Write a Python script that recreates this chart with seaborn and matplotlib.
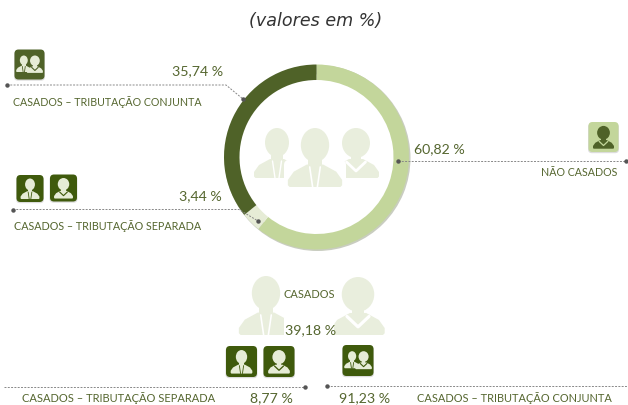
import matplotlib
matplotlib.use('Agg')
import matplotlib.pyplot as plt
from matplotlib.patches import Ellipse, FancyBboxPatch, Polygon, Rectangle
import seaborn as sns

# Data
categories = ['Não Casados', 'Casados – Tributação Separada', 'Casados – Tributação Conjunta']
values = [60.82, 3.44, 35.74]
value_labels = ['60,82 %', '3,44 %', '35,74 %']
married_label = 'Casados'
married_value = '39,18 %'
married_split_labels = ['8,77 %', '91,23 %']

# Colors
LIGHT = '#c3d69b'
PALE = '#e6ecd6'
DARK = '#4f6228'
ICON_DARK = '#3f5a0c'
GHOST = '#e9eedd'
TEXT = '#55662f'
DOT = '#555555'

sns.set_theme(style='white')
plt.rcParams['font.family'] = ['Lato', 'DejaVu Sans']

fig = plt.figure(figsize=(6.28, 4.05), dpi=100)

# Overlay axes in image pixels
ax = fig.add_axes([0, 0, 1, 1])
ax.set_xlim(0, 628)
ax.set_ylim(405, 0)
ax.axis('off')


def person(cx, top, s, color, cut, female=False, z=3):
    # head and shoulders, s = total height in pixels
    w = s * 0.92
    if female:
        ax.add_patch(Ellipse((cx, top + s * 0.3), s * 0.56, s * 0.6, color=color, lw=0, zorder=z))
        ax.add_patch(Rectangle((cx - s * 0.1, top + s * 0.5), s * 0.2, s * 0.22, color=color, lw=0, zorder=z))
    else:
        ax.add_patch(Ellipse((cx, top + s * 0.29), s * 0.48, s * 0.58, color=color, lw=0, zorder=z))
        ax.add_patch(Rectangle((cx - s * 0.12, top + s * 0.45), s * 0.24, s * 0.2, color=color, lw=0, zorder=z))
    ax.add_patch(Polygon([(cx - w / 2, top + s * 0.97), (cx - w / 2, top + s * 0.88),
                          (cx - w / 2 + s * 0.1, top + s * 0.74), (cx - s * 0.14, top + s * 0.62),
                          (cx + s * 0.14, top + s * 0.62), (cx + w / 2 - s * 0.1, top + s * 0.74),
                          (cx + w / 2, top + s * 0.88), (cx + w / 2, top + s * 0.97),
                          (cx + w / 2 - s * 0.03, top + s), (cx - w / 2 + s * 0.03, top + s)],
                         color=color, lw=0, zorder=z))
    # collar
    if female:
        ax.plot([cx - s * 0.19, cx, cx + s * 0.19], [top + s * 0.68, top + s * 0.86, top + s * 0.68],
                color=cut, lw=max(s * 0.04, 0.8), zorder=z + 0.1, solid_capstyle='round')
    else:
        ax.plot([cx - s * 0.09, cx - s * 0.04], [top + s * 0.66, top + s], color=cut, lw=max(s * 0.02, 0.6), zorder=z + 0.1)
        ax.plot([cx + s * 0.09, cx + s * 0.04], [top + s * 0.66, top + s], color=cut, lw=max(s * 0.02, 0.6), zorder=z + 0.1)


def icon(x0, y0, size, bg, fg, kinds):
    ax.add_patch(FancyBboxPatch((x0 - 0.5, y0 + 1.2), size + 1, size, boxstyle='round,pad=0,rounding_size=4',
                                fc='#dcdcdc', ec='none', zorder=2))
    ax.add_patch(FancyBboxPatch((x0, y0), size, size, boxstyle='round,pad=0,rounding_size=4',
                                fc=bg, ec='none', zorder=2.5))
    if len(kinds) == 1:
        person(x0 + size / 2, y0 + size * 0.13, size * 0.76, fg, bg, kinds[0] == 'f')
    else:
        person(x0 + size * 0.31, y0 + size * 0.2, size * 0.55, fg, bg, False)
        person(x0 + size * 0.68, y0 + size * 0.2, size * 0.58, fg, bg, True)


def leader(xs, ys, dot_ends, color='#888888'):
    ax.plot(xs, ys, color=color, lw=0.7, ls=(0, (2, 1.4)), zorder=5)
    for x, y in dot_ends:
        ax.plot(x, y, 'o', ms=3.2, color=DOT, mew=0, zorder=6)


def label(x, y, s, width, ha='left'):
    # fit the string to the pixel width it has in the reference
    t = ax.text(x, y, s, fontsize=10, color=TEXT, ha=ha, va='center', zorder=6)
    w = t.get_window_extent(fig.canvas.get_renderer()).width
    t.set_fontsize(10 * width / w)


def value(x, y, s, ha='right'):
    ax.text(x, y, s, fontsize=10.2, color=TEXT, ha=ha, va='center', zorder=6)


# Donut
cx, cy, R, r = 316.5, 157, 92.5, 77
shadow = fig.add_axes([(cx - R + 0.5) / 628, 1 - (cy + R + 1.5) / 405, (2 * R + 1) / 628, (2 * R + 1) / 405], zorder=-1)
shadow.pie([1], colors=['#c9cdc0'], radius=1, wedgeprops=dict(width=0.1, lw=0))
shadow.set_xlim(-1, 1)
shadow.set_ylim(-1, 1)

donut = fig.add_axes([(cx - R) / 628, 1 - (cy + R) / 405, 2 * R / 628, 2 * R / 405], zorder=-0.5)
donut.pie(values, colors=[LIGHT, PALE, DARK], startangle=90, counterclock=False, radius=1,
          wedgeprops=dict(width=(R - r) / R, lw=0))
donut.set_xlim(-1, 1)
donut.set_ylim(-1, 1)
ax.set_zorder(1)
ax.patch.set_alpha(0)

# Ghost people in the ring
person(277, 128, 50, GHOST, 'white', False, z=1)
person(356, 128, 50, GHOST, 'white', True, z=1)
ax.add_patch(FancyBboxPatch((284, 160), 62, 29, boxstyle='round,pad=0,rounding_size=5', fc='white', ec='none', zorder=1.5))
person(315, 128, 59, GHOST, 'white', False, z=2)

# Ghost people bottom
person(266, 276, 59, GHOST, 'white', False, z=1)
person(358, 277, 58, GHOST, 'white', True, z=1)
ax.add_patch(Rectangle((284, 318), 50, 18, fc='white', ec='none', zorder=1.6))

# Title
ax.text(316, 21.5, '(valores em %)', fontsize=12.6, style='italic', color='#333333',
        family='DejaVu Sans', ha='center', va='center')

# Top left: joint
icon(14.5, 49.5, 30, DARK, '#e6ecd6', ['m', 'f'])
leader([7, 226, 243], [85, 85, 99], [(7, 85), (243, 99)])
label(13, 102.5, categories[2].upper(), 188)
value(223, 71, value_labels[2])

# Separada
icon(16.5, 175, 27, ICON_DARK, '#e6ecd6', ['m'])
icon(50, 174.5, 27, ICON_DARK, '#e6ecd6', ['f'])
leader([13, 239, 258], [209.5, 209.5, 221], [(13, 209.5), (258, 221)])
label(14, 226.5, categories[1].upper(), 186)
value(222, 196, value_labels[1])

# Right: single
icon(588.5, 122, 30, LIGHT, '#4f6228', ['f'])
leader([398, 626], [160.5, 160.5], [(398, 160.5), (626, 160.5)])
label(617, 173, categories[0].upper(), 76, ha='right')
value(414, 149, value_labels[0], ha='left')

# Bottom
label(283, 295, married_label.upper(), 51)
value(285, 330, married_value, ha='left')
icon(226, 346, 31, ICON_DARK, '#e6ecd6', ['m'])
icon(263.5, 346, 31, ICON_DARK, '#e6ecd6', ['f'])
icon(342.5, 345, 31, ICON_DARK, '#e6ecd6', ['m', 'f'])
leader([4, 305], [386.5, 386.5], [(305, 386.5)])
leader([327, 628], [386, 386], [(327, 386)])
label(22, 398.5, categories[1].upper(), 192)
label(417, 398.5, categories[2].upper(), 195)
value(293, 398.5, married_split_labels[0])
value(339, 398.5, married_split_labels[1], ha='left')

fig.savefig('out.png', dpi=100)
